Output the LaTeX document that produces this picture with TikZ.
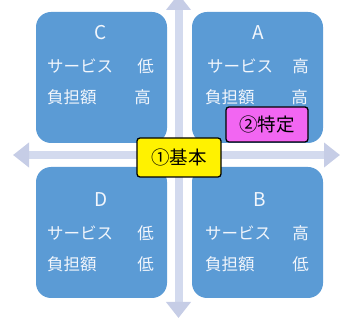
\documentclass[tikz,border=0pt]{standalone}
\usepackage{fontspec}
\setmainfont{Noto Sans CJK JP}
\usetikzlibrary{arrows.meta}
\definecolor{boxblue}{HTML}{5B9BD5}
\definecolor{axisc}{HTML}{D3DAEE}
\definecolor{tipc}{HTML}{C6CDE6}
\definecolor{mag}{HTML}{F266F2}
\definecolor{qtc}{HTML}{F2F6FC}
\tikzset{
  quad/.style={fill=boxblue, draw=none, rounded corners=15pt, minimum width=131pt, minimum height=131pt, inner sep=0pt},
  qtext/.style={text=qtc, font=\fontsize{16.5}{18}\selectfont, inner sep=0pt},
  qletter/.style={text=qtc, font=\fontsize{19}{20}\selectfont, inner sep=0pt},
  axis/.style={draw=axisc, line width=8pt, -{Triangle[width=24pt,length=16pt,fill=tipc,color=tipc]}},
  tagbox/.style={draw=black, line width=1.3pt, rounded corners=3pt, inner sep=0pt, font=\fontsize{18.5}{20}\selectfont}
}
\begin{document}
\begin{tikzpicture}[x=1pt,y=-1pt]
\useasboundingbox (0,0) rectangle (340,320);
\coordinate (vt) at (178.5,-6);
\coordinate (vb) at (178.5,318);
\coordinate (hl) at (13,155);
\coordinate (hr) at (340,155);
\coordinate (ctr) at (178.5,155);
\draw[axis] (ctr) -- (vt);
\draw[axis] (ctr) -- (vb);
\draw[axis] (ctr) -- (hl);
\draw[axis] (ctr) -- (hr);
% quadrants
\node[quad] (C) at (101.5,77.5) {};
\node[quad] (A) at (257.5,77.5) {};
\node[quad] (D) at (101.5,232.5) {};
\node[quad] (B) at (257.5,232.5) {};
% C
\node[qletter] (Ct) at (101,33) {C};
\node[qtext,anchor=west] (Cs) at (47,66) {サービス};
\node[qtext,anchor=east] (Csv) at (154,66) {低};
\node[qtext,anchor=west] (Cf) at (47,97) {負担額};
\node[qtext,anchor=east] (Cfv) at (151,97) {高};
% A
\node[qletter] (At) at (258,33) {A};
\node[qtext,anchor=west] (As) at (207,66) {サービス};
\node[qtext,anchor=east] (Asv) at (309,66) {高};
\node[qtext,anchor=west] (Af) at (205,97) {負担額};
\node[qtext,anchor=east] (Afv) at (308,97) {高};
% D
\node[qletter] (Dt) at (101,200) {D};
\node[qtext,anchor=west] (Ds) at (47,233) {サービス};
\node[qtext,anchor=east] (Dsv) at (154,233) {低};
\node[qtext,anchor=west] (Df) at (47,264) {負担額};
\node[qtext,anchor=east] (Dfv) at (154,264) {低};
% B
\node[qletter] (Bt) at (260,200) {B};
\node[qtext,anchor=west] (Bs) at (205,233) {サービス};
\node[qtext,anchor=east] (Bsv) at (309,233) {高};
\node[qtext,anchor=west] (Bf) at (205,264) {負担額};
\node[qtext,anchor=east] (Bfv) at (309,264) {低};
% tags
\node[tagbox, fill=mag, minimum width=82pt, minimum height=35pt] (tok) at (267,124.5) {②特定};
\node[tagbox, fill=yellow, minimum width=84pt, minimum height=39pt] (kih) at (179,157.5) {①基本};
\end{tikzpicture}
\end{document}
